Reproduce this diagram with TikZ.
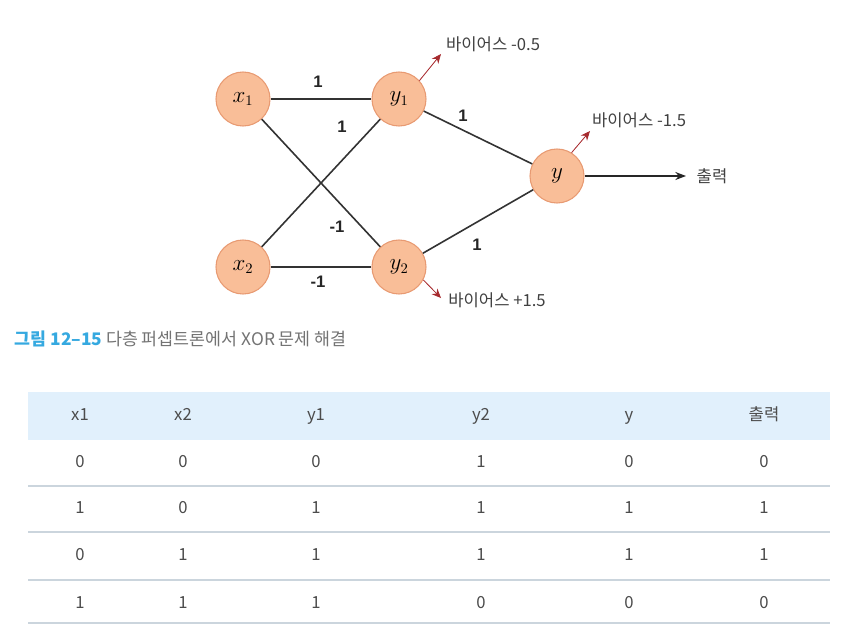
\documentclass[tikz,border=0pt]{standalone}
\usepackage{fontspec}
\setmainfont{Noto Sans CJK KR}
\newfontfamily\numfont{Liberation Sans}
\usetikzlibrary{arrows.meta}

\definecolor{neuronfill}{HTML}{F9BE98}
\definecolor{neurondraw}{HTML}{E89A72}
\definecolor{biasred}{HTML}{D0343A}
\definecolor{capblue}{HTML}{35A9E0}
\definecolor{headfill}{HTML}{E1F0FC}
\definecolor{rulegray}{HTML}{CBD5DD}

\begin{document}
\begin{tikzpicture}[x=0.75pt,y=-0.75pt,
  neuron/.style={circle,fill=neuronfill,draw=neurondraw,line width=0.8pt,minimum size=40.5pt,inner sep=0pt,font=\fontsize{16}{18}\selectfont},
  link/.style={draw=black!80,line width=1.2pt},
  weight/.style={font=\numfont\bfseries\fontsize{12.5}{14}\selectfont,text=black!85},
  bias/.style={-{Stealth[length=7pt,width=6pt]},draw=biasred!80!black,fill=biasred,line width=0.6pt},
  biaslabel/.style={font=\fontsize{12.5}{14}\selectfont,text=black!75},
  flow/.style={-{Stealth[length=8pt,width=6pt]},draw=black!85,line width=1.2pt},
  cell/.style={font=\fontsize{12.5}{15}\selectfont,text=black!70,text height=9pt,text depth=2pt}]

\useasboundingbox (0,0) rectangle (859,625);

% Neurons of the network
\node[neuron] (x1) at (243,99) {$x_1$};
\node[neuron] (x2) at (243,267) {$x_2$};
\node[neuron] (y1) at (399,99) {$y_1$};
\node[neuron] (y2) at (399,267) {$y_2$};
\node[neuron] (y) at (557,176) {$y$};

% Weighted links
\draw[link] (x1) -- (y1);
\draw[link] (x1) -- (y2);
\draw[link] (x2) -- (y1);
\draw[link] (x2) -- (y2);
\draw[link] (y1) -- (y);
\draw[link] (y2) -- (y);

\node[weight] (w11) at (318,82) {1};
\node[weight] (w21) at (342,127) {1};
\node[weight] (w12) at (337,227) {-1};
\node[weight] (w22) at (318,282) {-1};
\node[weight] (w1y) at (463,116) {1};
\node[weight] (w2y) at (477,245) {1};

% Biases
\coordinate (b1) at (441,54);
\coordinate (b2) at (441,298);
\coordinate (by) at (590,131);
\draw[bias] (y1.42) -- (b1);
\draw[bias] (y2.-28) -- (b2);
\draw[bias] (y.58) -- (by);
\node[biaslabel] (lb1) at (493,44) {바이어스 -0.5};
\node[biaslabel] (lb2) at (497,300) {바이어스 +1.5};
\node[biaslabel] (lby) at (639,120) {바이어스 -1.5};

% Output
\coordinate (out) at (686,176);
\draw[flow] (y) -- (out);
\node[biaslabel,anchor=west] (outlabel) at (692,176) {출력};

% Caption
\node[anchor=west,font=\fontsize{13}{15}\selectfont] (caption) at (10,339)
  {\textcolor{capblue}{\bfseries 그림 12–15}\ \textcolor{black!55}{다층 퍼셉트론에서 XOR 문제 해결}};

% Truth table
\fill[headfill] (28,392) rectangle (830,440);
\foreach \ly in {486,532,580,623}
  \draw[rulegray,line width=0.8pt] (28,\ly) -- (830,\ly);
\foreach \cx/\hd/\va/\vb/\vc/\vd [count=\col] in
  {80/x1/0/1/0/1, 183/x2/0/0/1/1, 316/y1/0/1/1/1,
   481/y2/1/1/1/0, 629/y/0/1/1/0, 764/출력/0/1/1/0} {
  \node[cell] (h\col) at (\cx,416) {\hd};
  \node[cell] (r1c\col) at (\cx,463) {\va};
  \node[cell] (r2c\col) at (\cx,509) {\vb};
  \node[cell] (r3c\col) at (\cx,556) {\vc};
  \node[cell] (r4c\col) at (\cx,604) {\vd};
}

\end{tikzpicture}
\end{document}
